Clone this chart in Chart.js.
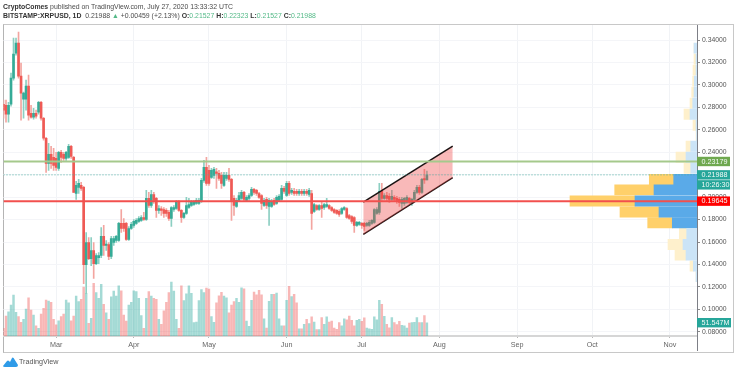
<!DOCTYPE html>
<html>
<head>
<meta charset="utf-8">
<title>XRPUSD</title>
<script src="https://cdn.jsdelivr.net/npm/chart.js@4"></script>
<style>
    html, body { margin: 0; padding: 0; background: #fff; width: 736px; height: 372px; overflow: hidden; }
    body { position: relative; font-family: 'Liberation Sans', Arial, sans-serif; color: #4a4a4a; }
    #stock-chart { position: absolute; left: 0; top: 0; }
    #frame { position: absolute; left: 3px; top: 24px; width: 729px; height: 327px; border: 1px solid #c8c8c8; border-left-color: #b4b4b4; }
    .line { position: absolute; left: 3px; white-space: nowrap; font-size: 6.9px; line-height: 10px; }
    .line b { color: #333; }
    .val { color: #53b987; }
    #footer { position: absolute; left: 3px; top: 356px; height: 12px; }
    #footer svg { display: block; }
    #footer span { position: absolute; left: 16px; top: 0; font-size: 7.2px; line-height: 12px; color: #555; }
</style>
</head>
<body>
<div id="frame"></div>
<canvas id="stock-chart" width="736" height="372"></canvas>
<div class="line" style="top:2px"><b>CryptoComes</b> published on TradingView.com, July 27, 2020 13:33:32 UTC</div>
<div class="line" style="top:11px"><b>BITSTAMP:XRPUSD, 1D</b>&nbsp; 0.21988 <span class="val">▲</span> +0.00459 (+2.13%) <b>O:</b><span class="val">0.21527</span> <b>H:</b><span class="val">0.22323</span> <b>L:</b><span class="val">0.21527</span> <b>C:</b><span class="val">0.21988</span></div>
<div id="footer">
    <svg width="15" height="12" viewBox="0 0 15 12"><path d="M0 10 L4 5 Q5 4 6 5 L7 6 L9 2 Q9.6 1 10.6 2 L15 9 Q15 11 13 11 L2 11 Q0 11 0 10 Z" fill="#2f9be8"/></svg>
    <span>TradingView</span>
</div>
<script>
// Daily candles, Feb 9 to Jul 27 2020
const opens = [
    .2828,.2819,.2739,.2828,.3060,.3284,.3373,.3078,.2873,.2873,
    .2989,.2748,.2712,.2748,.2757,.2846,.2703,.2525,.2301,.2382,
    .2355,.2346,.2257,.2400,.2382,.2346,.2355,.2453,.2355,.2033,
    .2087,.2105,.2087,.1399,.1596,.1453,.1525,.1408,.1462,.1480,
    .1650,.1569,.1578,.1471,.1596,.1614,.1614,.1766,.1766,.1766,
    .1623,.1721,.1748,.1766,.1784,.1793,.1819,.1801,.1989,.1926,
    .2024,.1989,.1882,.1890,.1890,.1882,.1864,.1810,.1890,.1899,
    .1962,.1882,.1819,.1855,.1908,.1926,.1935,.1944,.1944,.1962,
    .2150,.2265,.2239,.2176,.2194,.2221,.2212,.2194,.2105,.2167,
    .2194,.2158,.1989,.1917,.1971,.1989,.2042,.1971,.1989,.2015,
    .2069,.2060,.2033,.2015,.1926,.1980,.1917,.1917,.1971,.1944,
    .1971,.1980,.2078,.2015,.2123,.2042,.2051,.2051,.2033,.2051,
    .2033,.2051,.2024,.2033,.1873,.1926,.1890,.1926,.1908,.1917,
    .1926,.1908,.1890,.1882,.1873,.1855,.1890,.1899,.1837,.1828,
    .1819,.1748,.1757,.1766,.1766,.1748,.1748,.1766,.1775,.1855,
    .1864,.2051,.1989,.2015,.2007,.1980,.1998,.1989,.1980,.1944,
    .1944,.1953,.1989,.1944,.1980,.2042,.2087,.2042,.2158,.21527
];
const highs = [
    .2864,.2864,.2846,.3105,.3418,.3418,.3471,.3195,.2936,.3043,
    .3087,.2819,.2792,.2775,.2855,.2855,.2712,.2534,.2480,.2453,
    .2435,.2400,.2409,.2418,.2400,.2409,.2471,.2462,.2364,.2141,
    .2158,.2132,.2096,.1685,.1641,.1641,.1596,.1498,.1507,.1730,
    .1748,.1614,.1596,.1650,.1650,.1659,.1775,.1890,.1810,.1775,
    .1739,.1775,.1801,.1810,.1828,.1837,.1864,.2060,.2042,.2060,
    .2042,.1998,.1926,.1917,.1908,.1899,.1882,.1917,.1926,.1971,
    .1971,.1890,.1864,.1998,.1989,.1971,.1971,.1989,.1989,.2167,
    .2328,.2355,.2283,.2257,.2265,.2257,.2239,.2221,.2221,.2221,
    .2257,.2167,.2015,.1989,.2042,.2060,.2051,.2015,.2033,.2087,
    .2078,.2069,.2042,.2024,.1989,.1998,.1989,.1980,.1989,.2015,
    .2024,.2105,.2096,.2141,.2141,.2078,.2078,.2069,.2069,.2069,
    .2069,.2069,.2078,.2060,.1944,.1935,.1935,.1953,.1944,.1989,
    .1935,.1917,.1899,.1890,.1890,.1908,.1917,.1908,.1846,.1837,
    .1828,.1784,.1784,.1775,.1775,.1775,.1793,.1801,.1899,.1908,
    .2123,.2123,.2033,.2042,.2033,.2060,.2015,.2007,.1998,.1998,
    .1998,.2015,.1998,.1989,.2060,.2105,.2105,.2167,.2248,.22323
];
const lows = [
    .2703,.2668,.2668,.2810,.3043,.3266,.3060,.2685,.2703,.2775,
    .2685,.2703,.2694,.2703,.2739,.2685,.2507,.2221,.2239,.2257,
    .2239,.2239,.2239,.2310,.2328,.2328,.2346,.2346,.2042,.1980,
    .2033,.2060,.1230,.1141,.1444,.1390,.1275,.1399,.1408,.1462,
    .1480,.1525,.1444,.1453,.1569,.1596,.1605,.1685,.1694,.1614,
    .1614,.1712,.1730,.1757,.1775,.1784,.1793,.1793,.1908,.1908,
    .1944,.1819,.1855,.1837,.1819,.1828,.1793,.1739,.1873,.1890,
    .1873,.1775,.1810,.1846,.1899,.1917,.1926,.1935,.1935,.1953,
    .2132,.2105,.2105,.2167,.2167,.2078,.2150,.2078,.2096,.2150,
    .2141,.1793,.1837,.1908,.1962,.1980,.1962,.1962,.1971,.2007,
    .2024,.2015,.1989,.1890,.1917,.1899,.1748,.1908,.1926,.1935,
    .1962,.1971,.2033,.2007,.2015,.2024,.2015,.2015,.2015,.2015,
    .2015,.2015,.2007,.1712,.1864,.1882,.1882,.1819,.1890,.1908,
    .1890,.1873,.1855,.1846,.1828,.1846,.1882,.1810,.1801,.1766,
    .1685,.1739,.1748,.1721,.1703,.1739,.1739,.1757,.1766,.1846,
    .1846,.1971,.1980,.1971,.1953,.1971,.1962,.1944,.1917,.1899,
    .1926,.1944,.1935,.1926,.1971,.2033,.2024,.2033,.2123,.21527
];
const closes = [
    .2775,.2739,.2819,.3060,.3275,.3373,.3078,.2927,.2927,.2989,
    .2730,.2712,.2748,.2721,.2846,.2703,.2525,.2301,.2382,.2301,
    .2283,.2265,.2400,.2355,.2346,.2400,.2453,.2364,.2042,.2105,
    .2123,.2078,.1399,.1596,.1453,.1525,.1408,.1480,.1480,.1650,
    .1569,.1578,.1471,.1632,.1632,.1650,.1766,.1721,.1721,.1623,
    .1721,.1757,.1784,.1793,.1810,.1819,.1801,.1989,.1926,.2024,
    .1971,.1882,.1899,.1882,.1855,.1855,.1810,.1908,.1908,.1962,
    .1882,.1819,.1855,.1926,.1935,.1953,.1953,.1971,.1971,.2150,
    .2265,.2123,.2123,.2239,.2248,.2212,.2167,.2123,.2194,.2194,
    .2158,.1971,.1926,.1971,.2015,.2042,.1980,.1998,.2015,.2069,
    .2042,.2033,.1998,.1944,.1971,.1926,.1971,.1962,.1935,.1998,
    .2007,.2078,.2051,.2123,.2033,.2060,.2033,.2033,.2051,.2033,
    .2051,.2033,.2060,.1855,.1935,.1890,.1926,.1899,.1935,.1935,
    .1899,.1882,.1864,.1855,.1846,.1899,.1908,.1819,.1810,.1784,
    .1748,.1775,.1775,.1748,.1739,.1766,.1775,.1793,.1890,.1890,
    .2051,.1989,.2015,.1989,.1980,.2007,.1980,.1971,.1953,.1980,
    .1989,.1998,.1953,.1980,.2042,.2087,.2042,.2158,.2153,.21988
];
// Volume in millions
const volumes = [
    30,77,94,120,159,92,75,53,65,104,
    148,100,81,39,30,85,107,139,135,130,
    65,43,59,75,85,139,129,59,77,155,
    133,142,190,165,49,68,204,168,146,200,
    123,90,65,152,174,155,194,175,81,58,
    120,130,175,172,146,79,30,146,172,155,
    146,142,65,45,98,130,168,209,174,65,
    30,194,137,163,194,165,52,54,137,180,
    168,186,182,75,53,129,156,169,155,148,
    90,120,133,146,130,187,183,58,37,138,
    170,160,177,160,67,31,134,161,161,166,
    67,39,39,138,192,153,161,129,28,28,
    45,65,48,74,54,25,25,71,45,74,
    54,58,31,26,52,39,67,63,77,61,
    39,61,65,57,70,31,28,26,74,63,
    138,123,76,45,32,71,52,44,57,41,
    39,31,50,52,53,71,52,52,79,51.5
];

// Day number counted from Mar 1, the first candle is 21 days before
const firstDay = -21;
const days = opens.map((v, i) => firstDay + i);
const lastAxisDay = 255.8;

// Month ticks
const monthDays = [0, 31, 61, 92, 122, 153, 184, 214, 245];
const monthLabels = ['Mar', 'Apr', 'May', 'Jun', 'Jul', 'Aug', 'Sep', 'Oct', 'Nov'];

// Visible volume profile, one row per price bin
const vpPrices = [.3328,.3230,.3132,.3034,.2936,.2837,.2739,.2641,.2547,.2453,.2355,.2257,.2158,.2065,.1966,.1868,.1772,.1676,.1578,.1484,.1386,.1292];
const vpUp = [3,1,1,2.7,3,4.3,7,1,.5,6.3,11,6.3,23.3,43,62,38,24.7,10.3,14,11,3.7,1];
const vpDown = [0,2,3,1.7,2.3,2.7,6,3,.5,4.7,10,6.7,24.4,39.3,65,39,24.6,7.4,15,11,3.3,0];
const vpValueAreaLow = .172;
const vpValueAreaHigh = .221;

// Drawn levels and the rising channel
const resistanceLevel = .23179;
const supportLevel = .19645;
const lastPrice = .21988;
const lastVolume = 51.547;
const channelDays = [122.6, 158.3];
const channelTop = [.1956, .2454];
const channelBottom = [.1668, .2174];

const upColor = '#35ab97';
const downColor = '#ef5a55';

function isUp(i) {
    return closes[i] >= opens[i];
}

// Price tags on the right axis, drawn over the tick labels
const priceTags = {
    id: 'priceTags',
    afterDraw(chart) {
        const { ctx, chartArea, scales } = chart;
        const right = chartArea.right;
        // axis line runs on through the date strip
        ctx.save();
        ctx.strokeStyle = '#7d7f86';
        ctx.lineWidth = 1;
        ctx.beginPath();
        ctx.moveTo(right + 0.5, chartArea.top);
        ctx.lineTo(right + 0.5, 351);
        ctx.stroke();

        function tag(y, text, color, width) {
            ctx.fillStyle = color;
            ctx.fillRect(right, y - 4.7, width, 9.4);
            ctx.fillStyle = '#f4fbf8';
            ctx.font = '7.2px "Liberation Sans"';
            ctx.textBaseline = 'middle';
            ctx.textAlign = 'left';
            ctx.fillText(text, right + 4.5, y + 0.3);
        }
        const priceY = scales.y.getPixelForValue(lastPrice);
        tag(scales.y.getPixelForValue(resistanceLevel), resistanceLevel.toFixed(5), '#6fa84f', 33);
        tag(priceY, lastPrice.toFixed(5), '#26a69a', 33);
        tag(priceY + 10, '10:26:30', '#26a69a', 33);
        tag(scales.y.getPixelForValue(supportLevel), supportLevel.toFixed(5), '#ff0000', 33);
        tag(scales.vol.getPixelForValue(lastVolume), lastVolume.toFixed(3) + 'M', '#26a69a', 34);
        ctx.restore();
    }
};

function levelLine(value, color, width, dash, order) {
    return {
        type: 'line',
        data: [{ x: firstDay, y: value }, { x: lastAxisDay, y: value }],
        xAxisID: 'x',
        yAxisID: 'y',
        borderColor: color,
        borderWidth: width,
        borderDash: dash,
        pointRadius: 0,
        order: order
    };
}

const ctx = document.getElementById('stock-chart').getContext('2d');
const chartInstance = new Chart(ctx, {
    type: 'bar',
    data: {
        datasets: [
            {
                // volume at the bottom
                data: days.map((d, i) => ({ x: d, y: volumes[i] })),
                xAxisID: 'x',
                yAxisID: 'vol',
                backgroundColor: days.map((d, i) => isUp(i) ? 'rgba(38,166,154,0.42)' : 'rgba(239,83,80,0.42)'),
                barThickness: 1.8,
                grouped: false,
                order: 8
            },
            {
                // volume profile, up part
                indexAxis: 'y',
                data: vpPrices.map((p, i) => ({ y: p, x: [0, vpUp[i]] })),
                xAxisID: 'vp',
                yAxisID: 'y',
                backgroundColor: vpPrices.map(p => p > vpValueAreaLow && p < vpValueAreaHigh ? '#5aaae8' : '#cbe4f7'),
                barThickness: 10.3,
                grouped: false,
                order: 7
            },
            {
                // volume profile, down part
                indexAxis: 'y',
                data: vpPrices.map((p, i) => ({ y: p, x: [vpUp[i], vpUp[i] + vpDown[i]] })),
                xAxisID: 'vp',
                yAxisID: 'y',
                backgroundColor: vpPrices.map(p => p > vpValueAreaLow && p < vpValueAreaHigh ? '#ffd06a' : '#fef0cc'),
                barThickness: 10.3,
                grouped: false,
                order: 7
            },
            {
                // candle wicks
                data: days.map((d, i) => ({ x: d, y: [lows[i], highs[i]] })),
                xAxisID: 'x',
                yAxisID: 'y',
                backgroundColor: days.map((d, i) => isUp(i) ? '#8ccfc2' : '#f3a5a0'),
                barThickness: 1,
                grouped: false,
                order: 6
            },
            {
                // candle bodies
                data: days.map((d, i) => ({ x: d, y: [opens[i], closes[i]] })),
                xAxisID: 'x',
                yAxisID: 'y',
                backgroundColor: days.map((d, i) => isUp(i) ? upColor : downColor),
                barThickness: 2,
                minBarLength: 1.5,
                grouped: false,
                order: 5
            },
            {
                type: 'line',
                data: channelDays.map((d, i) => ({ x: d, y: channelTop[i] })),
                xAxisID: 'x',
                yAxisID: 'y',
                borderColor: '#1a1212',
                borderWidth: 1.5,
                backgroundColor: 'rgba(240,70,70,0.38)',
                fill: '+1',
                pointRadius: 0,
                order: 4
            },
            {
                type: 'line',
                data: channelDays.map((d, i) => ({ x: d, y: channelBottom[i] })),
                xAxisID: 'x',
                yAxisID: 'y',
                borderColor: '#1a1212',
                borderWidth: 1.5,
                pointRadius: 0,
                order: 4
            },
            levelLine(lastPrice, '#4fb0a4', 1, [1, 2], 3),
            levelLine(resistanceLevel, '#a5c98c', 2, [], 2),
            levelLine(supportLevel, '#f2504e', 2, [], 1)
        ]
    },
    options: {
        responsive: false,
        animation: false,
        events: [],
        layout: { padding: { left: 3.5, top: 25, right: 3, bottom: 21 } },
        plugins: { legend: { display: false }, tooltip: { enabled: false } },
        scales: {
            x: {
                type: 'linear',
                position: 'bottom',
                min: firstDay,
                max: lastAxisDay,
                offset: false,
                afterBuildTicks: scale => { scale.ticks = monthDays.map(v => ({ value: v })); },
                afterFit: scale => { scale.height = 15; },
                grid: { color: '#f1f3f6', offset: false, tickColor: '#b8b8b8', tickLength: 2, drawOnChartArea: true },
                border: { color: '#d6d6d6', width: 2 },
                ticks: {
                    autoSkip: false,
                    maxRotation: 0,
                    padding: 3,
                    color: '#666',
                    font: { family: 'Liberation Sans', size: 7.2 },
                    callback: value => monthLabels[monthDays.indexOf(value)]
                }
            },
            vp: {
                type: 'linear',
                axis: 'x',
                display: false,
                reverse: true,
                min: 0,
                max: 693.5,
                offset: false,
                grid: { offset: false }
            },
            y: {
                type: 'linear',
                position: 'right',
                min: .0763,
                max: .3534,
                offset: false,
                afterFit: scale => { scale.width = 36; },
                grid: { color: '#f4f5f8', offset: false, tickColor: '#8a8a8a', tickLength: 3 },
                border: { color: '#7d7f86', width: 1 },
                ticks: {
                    stepSize: .02,
                    includeBounds: false,
                    padding: 2,
                    color: '#555',
                    font: { family: 'Liberation Sans', size: 6.8 },
                    callback: value => value.toFixed(5)
                }
            },
            vol: {
                type: 'linear',
                axis: 'y',
                display: false,
                min: 0,
                max: 1205
            }
        }
    },
    plugins: [priceTags]
});
</script>
</body>
</html>
